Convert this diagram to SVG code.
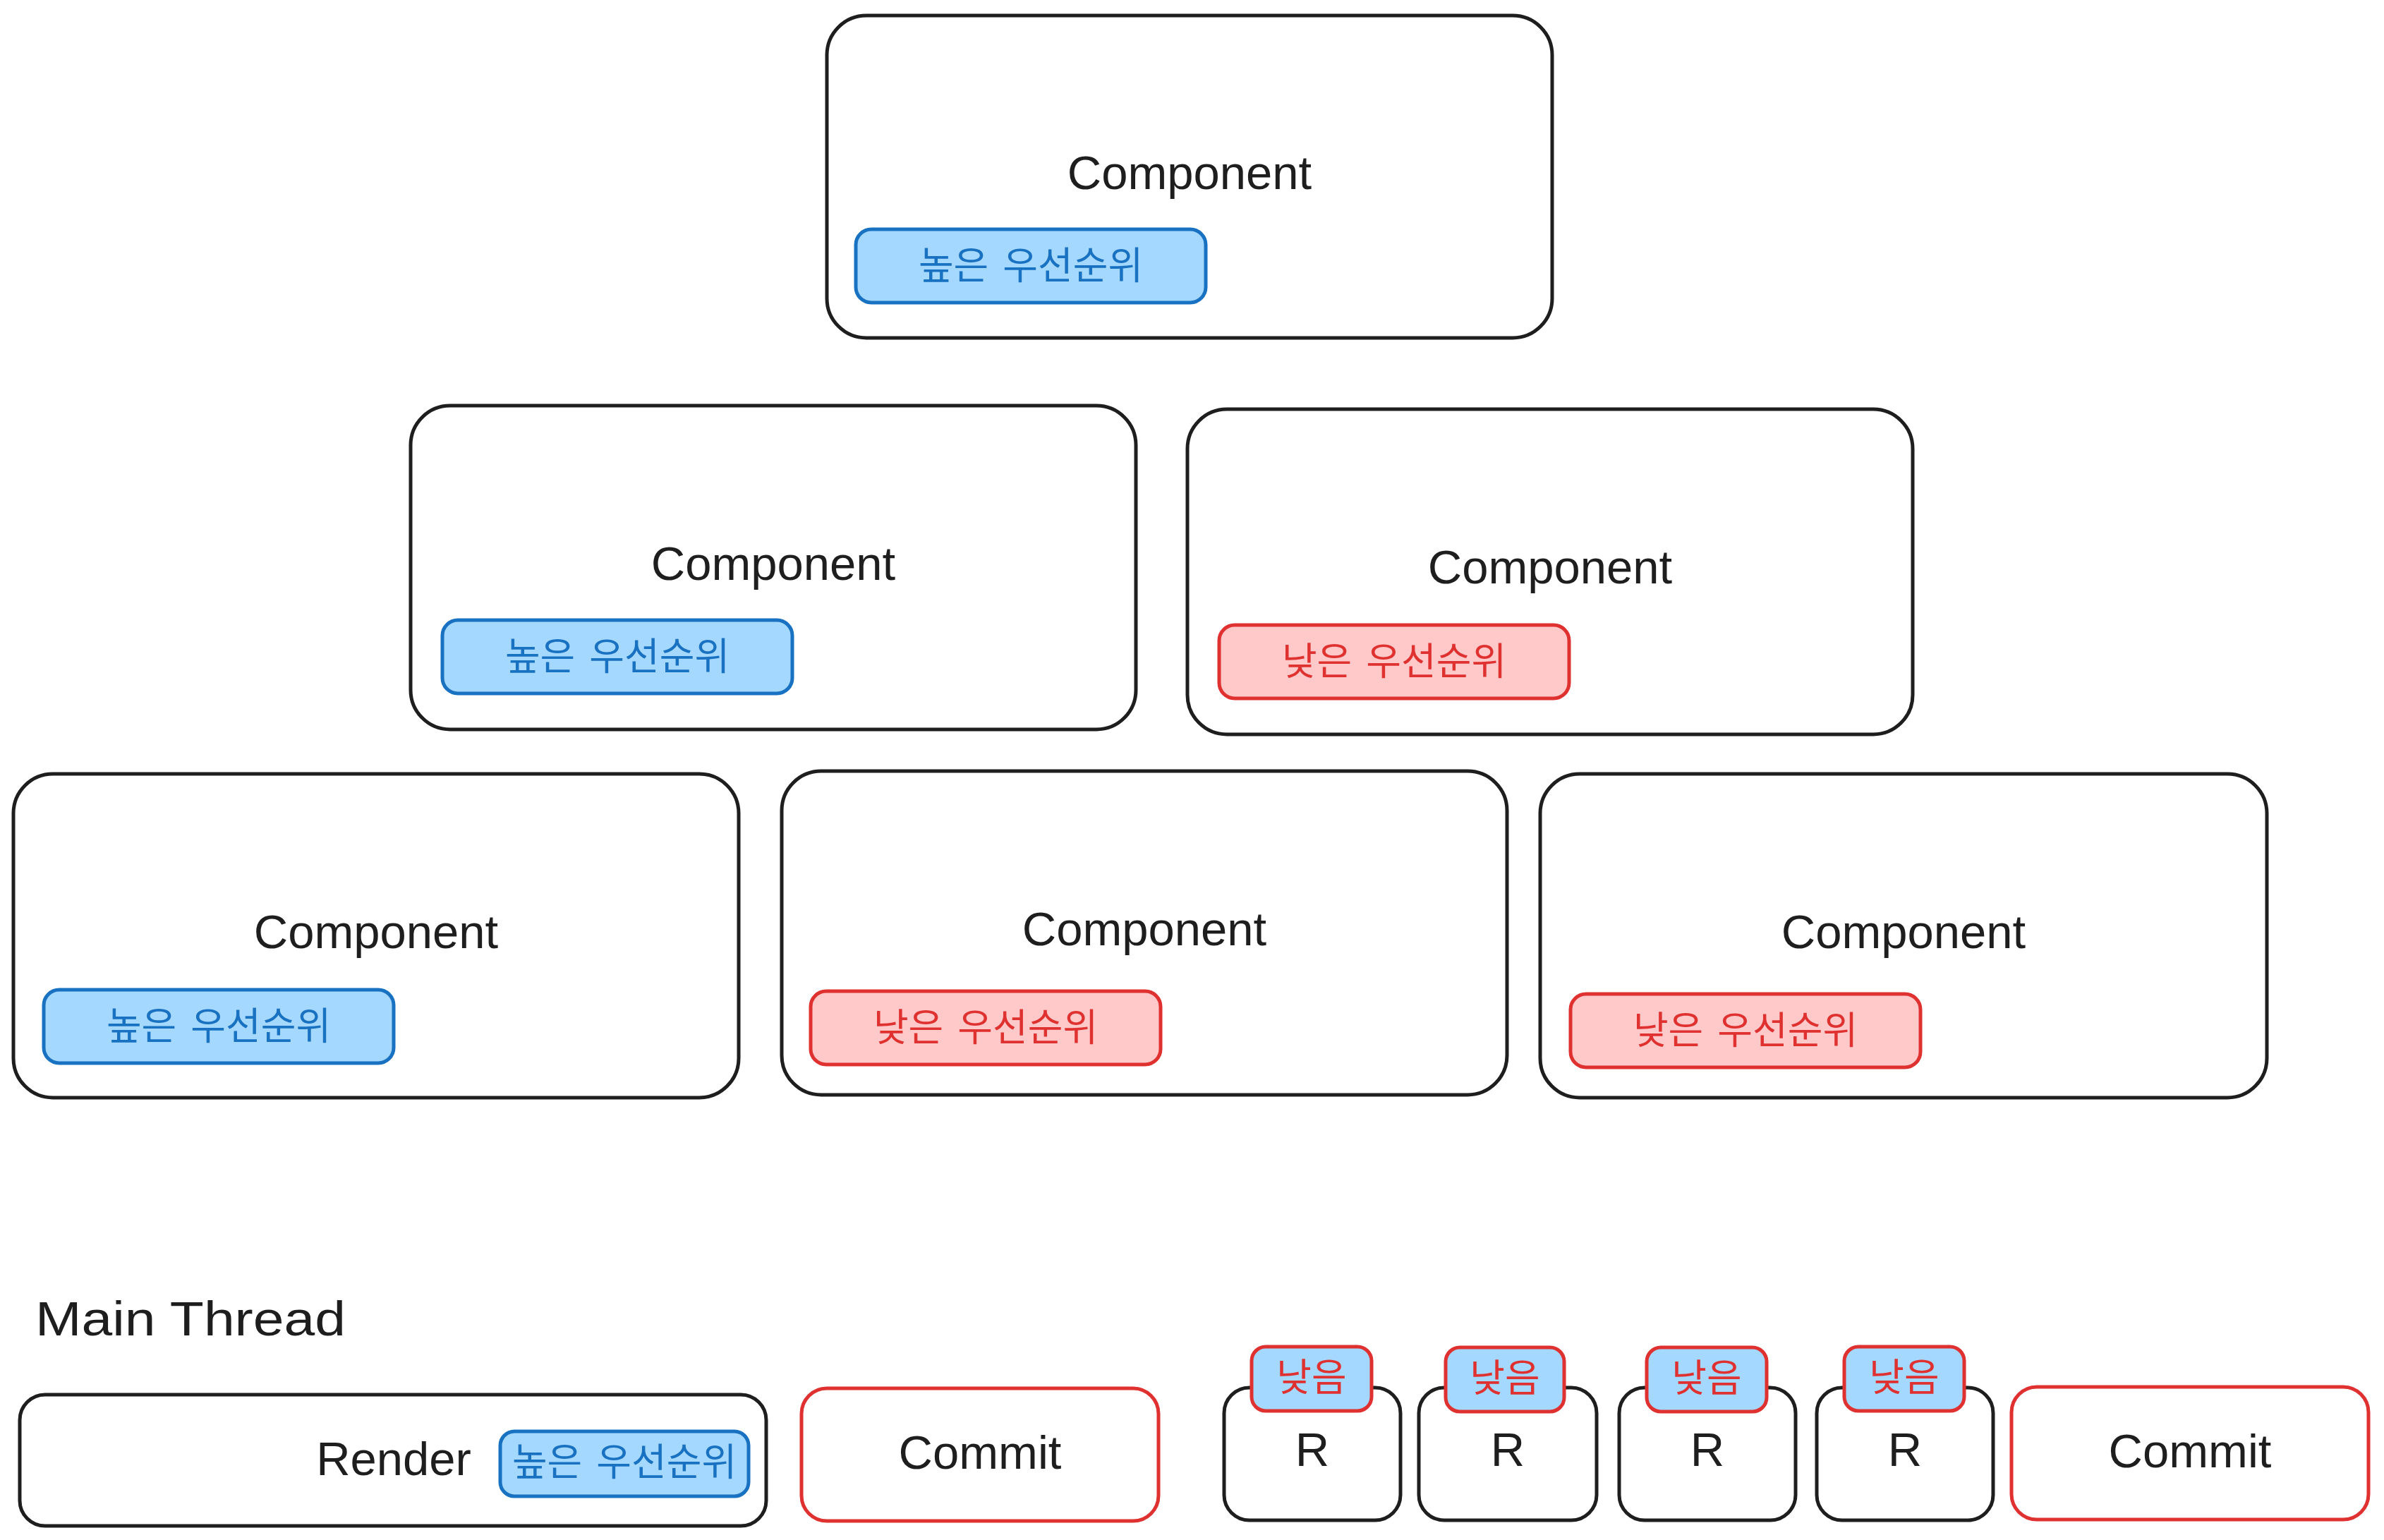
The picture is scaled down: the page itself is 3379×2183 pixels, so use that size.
<svg xmlns="http://www.w3.org/2000/svg" width="3379" height="2183" viewBox="0 0 3379 2183">
<style>
.box{fill:#ffffff;stroke:#1e1e1e;stroke-width:5}
.cbox{fill:#ffffff;stroke:#e03131;stroke-width:5}
.hi{fill:#a5d8ff;stroke:#1971c2;stroke-width:5}
.lo{fill:#ffc9c9;stroke:#e03131;stroke-width:5}
.lo2{fill:#a5d8ff;stroke:#e03131;stroke-width:5}
.lbl{font-family:"Liberation Sans","Noto Sans",sans-serif;font-size:67px;fill:#1e1e1e;text-anchor:middle}
.kh{font-family:"Noto Sans CJK KR","Noto Sans",sans-serif;font-size:54px;word-spacing:8px;fill:#1971c2;text-anchor:middle}
.kl{font-family:"Noto Sans CJK KR","Noto Sans",sans-serif;font-size:54px;word-spacing:8px;fill:#e03131;text-anchor:middle}
</style>
<rect width="3379" height="2183" fill="#ffffff"/>

<g id="comp-top">
<rect class="box" x="1172" y="22" width="1028" height="457" rx="56"/>
<text class="lbl" x="1686" y="268">Component</text>
<rect class="hi" x="1213" y="325" width="496" height="104" rx="22"/>
<text class="kh" x="1461" y="396">높은 우선순위</text>
</g>

<g id="comp-mid-left">
<rect class="box" x="582" y="575" width="1028" height="459" rx="56"/>
<text class="lbl" x="1096" y="822">Component</text>
<rect class="hi" x="627" y="879" width="496" height="104" rx="22"/>
<text class="kh" x="875" y="950">높은 우선순위</text>
</g>

<g id="comp-mid-right">
<rect class="box" x="1683" y="580" width="1028" height="461" rx="56"/>
<text class="lbl" x="2197" y="827">Component</text>
<rect class="lo" x="1728" y="886" width="496" height="104" rx="22"/>
<text class="kl" x="1976" y="957">낮은 우선순위</text>
</g>

<g id="comp-bot-1">
<rect class="box" x="19" y="1097" width="1028" height="459" rx="56"/>
<text class="lbl" x="533" y="1344">Component</text>
<rect class="hi" x="62" y="1403" width="496" height="104" rx="22"/>
<text class="kh" x="310" y="1474">높은 우선순위</text>
</g>

<g id="comp-bot-2">
<rect class="box" x="1108" y="1093" width="1028" height="459" rx="56"/>
<text class="lbl" x="1622" y="1340">Component</text>
<rect class="lo" x="1149" y="1405" width="496" height="104" rx="22"/>
<text class="kl" x="1397" y="1476">낮은 우선순위</text>
</g>

<g id="comp-bot-3">
<rect class="box" x="2183" y="1097" width="1030" height="459" rx="56"/>
<text class="lbl" x="2698" y="1344">Component</text>
<rect class="lo" x="2226" y="1409" width="496" height="104" rx="22"/>
<text class="kl" x="2474" y="1480">낮은 우선순위</text>
</g>

<g id="main-thread-label">
<text x="50" y="1893" textLength="440" lengthAdjust="spacingAndGlyphs" style="font-family:'Liberation Sans','Noto Sans',sans-serif;font-size:68px;fill:#1e1e1e">Main Thread</text>
</g>

<g id="render">
<rect class="box" x="28" y="1977" width="1058" height="186" rx="36"/>
<text class="lbl" x="558" y="2091">Render</text>
<rect class="hi" x="709" y="2029" width="352" height="92" rx="20"/>
<text class="kh" x="885" y="2092">높은 우선순위</text>
</g>

<g id="commit-1">
<rect class="cbox" x="1136" y="1968" width="506" height="188" rx="36"/>
<text class="lbl" x="1389" y="2082">Commit</text>
</g>

<g id="r-1">
<rect class="box" x="1735" y="1967" width="250" height="188" rx="36"/>
<text class="lbl" x="1860" y="2078">R</text>
<rect class="lo2" x="1774" y="1909" width="170" height="91" rx="20"/>
<text class="kl" x="1859" y="1972">낮음</text>
</g>

<g id="r-2">
<rect class="box" x="2011" y="1967" width="252" height="188" rx="36"/>
<text class="lbl" x="2137" y="2078">R</text>
<rect class="lo2" x="2049" y="1910" width="168" height="91" rx="20"/>
<text class="kl" x="2133" y="1973">낮음</text>
</g>

<g id="r-3">
<rect class="box" x="2295" y="1967" width="250" height="188" rx="36"/>
<text class="lbl" x="2420" y="2078">R</text>
<rect class="lo2" x="2334" y="1910" width="170" height="91" rx="20"/>
<text class="kl" x="2419" y="1973">낮음</text>
</g>

<g id="r-4">
<rect class="box" x="2575" y="1967" width="250" height="188" rx="36"/>
<text class="lbl" x="2700" y="2078">R</text>
<rect class="lo2" x="2614" y="1909" width="170" height="91" rx="20"/>
<text class="kl" x="2699" y="1972">낮음</text>
</g>

<g id="commit-2">
<rect class="cbox" x="2851" y="1966" width="506" height="188" rx="36"/>
<text class="lbl" x="3104" y="2080">Commit</text>
</g>

<g id="connectors"></g>
</svg>
